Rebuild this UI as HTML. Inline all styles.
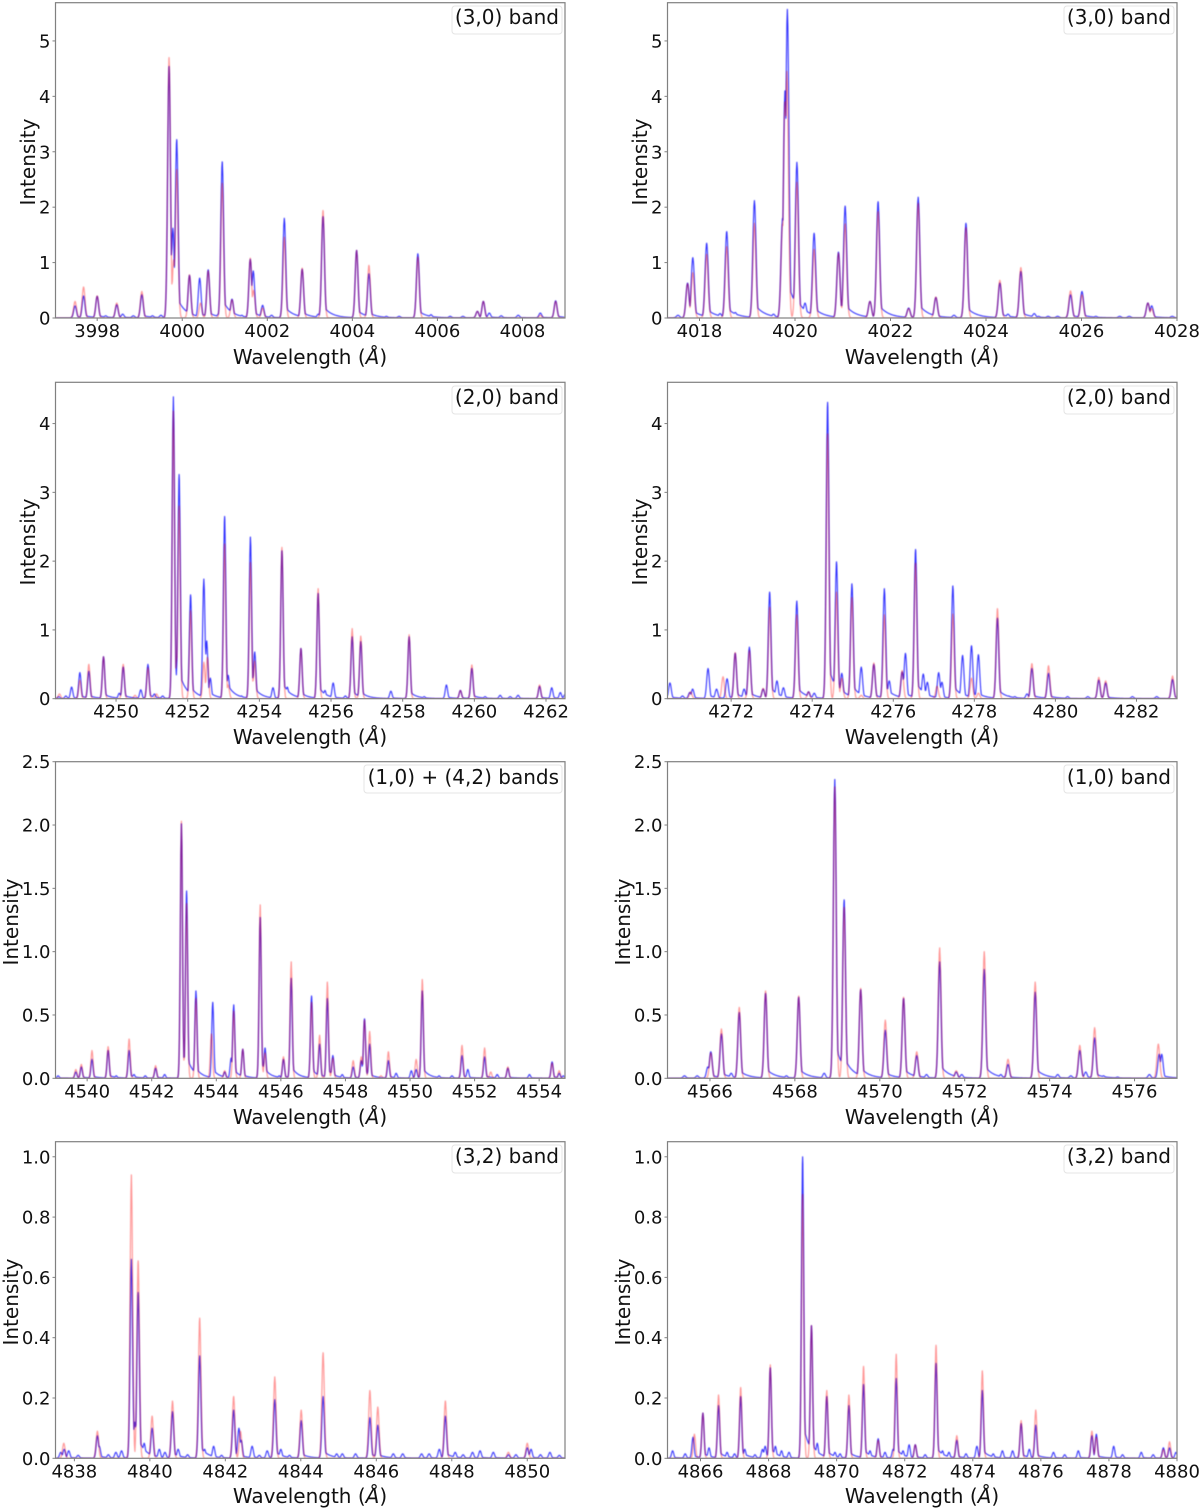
<!DOCTYPE html>
<html lang="en">
<head>
<meta charset="utf-8">
<title>Spectral band panels</title>
<style>
html,body{margin:0;padding:0;background:#fff;}
svg{display:block;font-family:"DejaVu Sans","Liberation Sans",sans-serif;fill:#111;}
.axt{font-size:20px;text-anchor:middle;}
.lgt{font-size:20px;text-anchor:end;}
.tk{font-size:18px;}
.frame{fill:none;stroke:#808080;stroke-width:1.2;}
.lgb{fill:#fff;fill-opacity:.8;stroke:#e4e4e4;stroke-width:1;}
</style>
</head>
<body>
<svg id="chart" xmlns="http://www.w3.org/2000/svg" width="1200" height="1510" viewBox="0 0 1200 1510">
<defs id="clips"><filter id="soft" x="-2%" y="-2%" width="104%" height="104%"><feGaussianBlur stdDeviation="0.45"/></filter></defs>

<g id="panel-1">
<g class="marks"></g>
<rect class="frame" x="55.5" y="2.7" width="509.5" height="315.3"/>
<g class="ticks"></g>
<rect class="lgb" x="452" y="6" width="110" height="28" rx="3"/>
<text class="lgt" x="559" y="24">(3,0) band</text>
<text class="axt" x="310" y="364">Wavelength (<tspan font-style="italic">Å</tspan>)</text>
<text class="axt" transform="translate(35,162) rotate(-90)">Intensity</text>
</g>

<g id="panel-2">
<g class="marks"></g>
<rect class="frame" x="667.5" y="2.7" width="509.5" height="315.3"/>
<g class="ticks"></g>
<rect class="lgb" x="1064" y="6" width="110" height="28" rx="3"/>
<text class="lgt" x="1171" y="24">(3,0) band</text>
<text class="axt" x="922" y="364">Wavelength (<tspan font-style="italic">Å</tspan>)</text>
<text class="axt" transform="translate(647,162) rotate(-90)">Intensity</text>
</g>

<g id="panel-3">
<g class="marks"></g>
<rect class="frame" x="55.5" y="382.3" width="509.5" height="316.4"/>
<g class="ticks"></g>
<rect class="lgb" x="452" y="386" width="110" height="28" rx="3"/>
<text class="lgt" x="559" y="404">(2,0) band</text>
<text class="axt" x="310" y="744">Wavelength (<tspan font-style="italic">Å</tspan>)</text>
<text class="axt" transform="translate(35,542) rotate(-90)">Intensity</text>
</g>

<g id="panel-4">
<g class="marks"></g>
<rect class="frame" x="667.5" y="382.3" width="509.5" height="316.4"/>
<g class="ticks"></g>
<rect class="lgb" x="1064" y="386" width="110" height="28" rx="3"/>
<text class="lgt" x="1171" y="404">(2,0) band</text>
<text class="axt" x="922" y="744">Wavelength (<tspan font-style="italic">Å</tspan>)</text>
<text class="axt" transform="translate(647,542) rotate(-90)">Intensity</text>
</g>

<g id="panel-5">
<g class="marks"></g>
<rect class="frame" x="55.5" y="761.7" width="509.5" height="316.6"/>
<g class="ticks"></g>
<rect class="lgb" x="364" y="765" width="198" height="28" rx="3"/>
<text class="lgt" x="559" y="784">(1,0) + (4,2) bands</text>
<text class="axt" x="310" y="1124">Wavelength (<tspan font-style="italic">Å</tspan>)</text>
<text class="axt" transform="translate(18,922) rotate(-90)">Intensity</text>
</g>

<g id="panel-6">
<g class="marks"></g>
<rect class="frame" x="667.5" y="761.7" width="509.5" height="316.6"/>
<g class="ticks"></g>
<rect class="lgb" x="1064" y="765" width="110" height="28" rx="3"/>
<text class="lgt" x="1171" y="784">(1,0) band</text>
<text class="axt" x="922" y="1124">Wavelength (<tspan font-style="italic">Å</tspan>)</text>
<text class="axt" transform="translate(630,922) rotate(-90)">Intensity</text>
</g>

<g id="panel-7">
<g class="marks"></g>
<rect class="frame" x="55.5" y="1141.7" width="509.5" height="316.6"/>
<g class="ticks"></g>
<rect class="lgb" x="452" y="1145" width="110" height="28" rx="3"/>
<text class="lgt" x="559" y="1163">(3,2) band</text>
<text class="axt" x="310" y="1503">Wavelength (<tspan font-style="italic">Å</tspan>)</text>
<text class="axt" transform="translate(18,1302) rotate(-90)">Intensity</text>
</g>

<g id="panel-8">
<g class="marks"></g>
<rect class="frame" x="667.5" y="1141.7" width="509.5" height="316.6"/>
<g class="ticks"></g>
<rect class="lgb" x="1064" y="1145" width="110" height="28" rx="3"/>
<text class="lgt" x="1171" y="1163">(3,2) band</text>
<text class="axt" x="922" y="1503">Wavelength (<tspan font-style="italic">Å</tspan>)</text>
<text class="axt" transform="translate(630,1302) rotate(-90)">Intensity</text>
</g>
</svg>

<script>
// ---- Panel 1: (3,0) band, left ----
const p1XTicks = ["3998","4000","4002","4004","4006","4008"];
const p1YTicks = ["0","1","2","3","4","5"];
const p1BlueWave = [3997.48,3997.68,3998.0,3998.2,3998.46,3998.6,3998.85,3999.05,3999.3,3999.5,3999.69,3999.78,3999.87,4000.17,4000.41,4000.61,4000.85,4000.94,4001.17,4001.4,4001.6,4001.67,4001.89,4002.1,4002.4,4002.82,4003.2,4003.31,4003.65,4004.1,4004.39,4004.8,4005.1,4005.54,4005.85,4006.3,4006.6,4006.94,4007.08,4007.22,4007.5,4007.9,4008.42,4008.78];
const p1BlueInt = [0.22,0.40,0.39,0.04,0.24,0.07,0.04,0.42,0.04,0.05,4.54,1.62,3.22,0.77,0.72,0.87,0.07,2.82,0.34,0.05,1.06,0.85,0.23,0.05,1.80,0.88,0.07,1.83,0.03,1.22,0.80,0.03,0.03,1.16,0.06,0.03,0.03,0.12,0.30,0.09,0.04,0.05,0.09,0.31];
const p1RedWave = [3997.48,3997.68,3998.0,3998.46,3999.05,3999.69,3999.8,3999.87,4000.17,4000.43,4000.61,4000.94,4001.17,4001.6,4001.68,4001.89,4002.4,4002.82,4003.31,4004.1,4004.39,4005.54,4006.94,4007.08,4008.42,4008.78];
const p1RedInt = [0.30,0.56,0.40,0.27,0.48,4.70,1.05,2.68,0.78,0.27,0.85,2.43,0.33,1.08,0.50,0.18,1.46,0.90,1.94,1.22,0.95,1.10,0.12,0.30,0.05,0.30];

// ---- Panel 2: (3,0) band, right ----
const p2XTicks = ["4018","4020","4022","4024","4026","4028"];
const p2YTicks = ["0","1","2","3","4","5"];
const p2BlueWave = [4017.55,4017.75,4017.86,4018.15,4018.43,4018.57,4018.75,4019.15,4019.55,4019.74,4019.79,4019.84,4020.04,4020.21,4020.40,4020.7,4020.91,4021.05,4021.57,4021.74,4022.38,4022.58,4022.95,4023.33,4023.58,4024.29,4024.46,4024.73,4025.01,4025.1,4025.3,4025.5,4025.77,4026.01,4026.3,4026.8,4027.0,4027.39,4027.47,4027.9];
const p2BlueInt = [0.05,0.63,1.09,1.35,0.08,1.56,0.10,2.12,0.07,1.80,4.10,5.57,2.81,0.27,1.53,0.04,1.19,2.02,0.30,2.10,0.18,2.18,0.37,0.05,1.71,0.63,0.07,0.84,0.08,0.03,0.03,0.03,0.42,0.48,0.03,0.03,0.03,0.27,0.22,0.03];
const p2RedWave = [4017.75,4017.86,4018.15,4018.57,4019.15,4019.74,4019.79,4019.83,4020.04,4020.40,4020.91,4021.05,4021.57,4021.74,4022.38,4022.58,4022.95,4023.58,4024.29,4024.73,4025.77,4026.01,4027.39,4027.47];
const p2RedInt = [0.62,0.82,1.15,1.29,1.71,1.70,3.90,4.45,2.45,1.24,1.17,1.70,0.30,1.92,0.17,2.07,0.38,1.63,0.68,0.91,0.49,0.42,0.27,0.17];

// ---- Panel 3: (2,0) band, left ----
const p3XTicks = ["4250","4252","4254","4256","4258","4260","4262"];
const p3YTicks = ["0","1","2","3","4"];
const p3BlueWave = [4248.4,4248.6,4248.76,4248.99,4249.24,4249.65,4250.09,4250.20,4250.69,4250.89,4251.07,4251.3,4251.6,4251.76,4252.08,4252.45,4252.53,4252.63,4253.03,4253.13,4253.5,4253.75,4253.87,4254.38,4254.63,4254.78,4255.16,4255.64,4255.83,4256.06,4256.4,4256.59,4256.83,4257.67,4258.18,4258.6,4259.22,4259.61,4259.93,4260.3,4260.72,4261.0,4261.22,4261.82,4262.16,4262.4,4262.53];
const p3BlueInt = [0.03,0.04,0.17,0.38,0.40,0.61,0.08,0.46,0.13,0.50,0.07,0.04,4.39,3.26,1.51,1.74,0.84,0.30,2.65,0.34,0.04,2.35,0.68,0.16,2.15,0.17,0.73,1.53,0.12,0.23,0.04,0.90,0.83,0.11,0.90,0.03,0.20,0.12,0.44,0.03,0.05,0.03,0.05,0.18,0.16,0.09,0.06];
const p3RedWave = [4248.42,4248.99,4249.24,4249.65,4250.20,4250.53,4250.89,4251.13,4251.6,4251.7,4251.76,4252.08,4252.45,4252.55,4253.03,4253.13,4253.75,4253.87,4254.63,4255.16,4255.64,4256.59,4256.83,4258.18,4259.61,4259.93,4261.82];
const p3RedInt = [0.07,0.27,0.50,0.61,0.50,0.05,0.45,0.07,4.18,0.60,2.80,1.28,0.53,0.60,2.25,0.20,1.98,0.55,2.20,0.73,1.60,1.02,0.91,0.93,0.12,0.49,0.20];

// ---- Panel 4: (2,0) band, right ----
const p4XTicks = ["4272","4274","4276","4278","4280","4282"];
const p4YTicks = ["0","1","2","3","4"];
const p4BlueWave = [4270.49,4270.8,4270.98,4271.05,4271.43,4271.64,4271.9,4272.1,4272.32,4272.45,4272.79,4272.95,4273.13,4273.29,4273.62,4273.91,4274.05,4274.38,4274.6,4274.73,4274.98,4275.21,4275.52,4275.78,4275.9,4276.22,4276.3,4276.55,4276.74,4276.84,4277.12,4277.2,4277.47,4277.71,4277.93,4278.1,4278.57,4278.85,4279.0,4279.3,4279.42,4279.83,4280.3,4280.8,4281.07,4281.24,4281.9,4282.5,4282.89];
const p4BlueInt = [0.23,0.04,0.09,0.14,0.44,0.14,0.29,0.66,0.14,0.75,0.14,1.55,0.26,0.16,1.42,0.10,0.08,4.31,1.99,0.37,1.67,0.46,0.50,1.60,0.26,0.39,0.66,2.17,0.36,0.24,0.38,0.24,1.64,0.63,0.77,0.64,1.17,0.04,0.03,0.07,0.44,0.37,0.03,0.03,0.27,0.23,0.03,0.03,0.28];
const p4RedWave = [4271.0,4271.8,4272.1,4272.45,4272.79,4272.95,4273.62,4273.91,4274.38,4274.6,4274.73,4274.98,4275.21,4275.52,4275.78,4276.22,4276.55,4277.08,4277.47,4277.93,4278.1,4278.57,4279.42,4279.83,4281.07,4281.24,4282.89];
const p4RedInt = [0.10,0.32,0.67,0.70,0.15,1.33,1.22,0.10,3.85,1.55,0.30,1.47,0.05,0.52,1.22,0.41,1.97,0.18,1.23,0.30,0.08,1.31,0.51,0.48,0.31,0.26,0.33];

// ---- Panel 5: (1,0) + (4,2) bands ----
const p5XTicks = ["4540","4542","4544","4546","4548","4550","4552","4554"];
const p5YTicks = ["0.0","0.5","1.0","1.5","2.0","2.5"];
const p5BlueWave = [4539.1,4539.65,4539.82,4540.15,4540.65,4540.9,4541.3,4541.45,4541.8,4542.12,4542.4,4542.92,4543.08,4543.37,4543.89,4544.26,4544.46,4544.54,4544.82,4545.36,4545.51,4545.95,4546.08,4546.32,4546.95,4547.2,4547.44,4547.61,4547.9,4548.24,4548.49,4548.59,4548.75,4549.33,4549.57,4550.04,4550.19,4550.38,4550.9,4551.3,4551.61,4551.79,4552.31,4552.7,4553.03,4553.7,4554.4,4554.62,4554.75];
const p5BlueInt = [0.02,0.05,0.09,0.15,0.22,0.02,0.22,0.03,0.02,0.08,0.03,2.01,1.48,0.69,0.60,0.05,0.16,0.58,0.23,1.27,0.24,0.02,0.15,0.79,0.65,0.27,0.63,0.18,0.03,0.09,0.14,0.47,0.27,0.14,0.04,0.06,0.07,0.69,0.02,0.02,0.18,0.07,0.17,0.03,0.08,0.03,0.13,0.04,0.02];
const p5RedWave = [4539.65,4539.82,4540.15,4540.65,4541.3,4542.12,4542.92,4543.08,4543.37,4543.85,4544.26,4544.54,4544.82,4545.36,4545.51,4546.08,4546.32,4546.95,4547.2,4547.44,4547.61,4548.24,4548.49,4548.59,4548.75,4549.1,4549.33,4550.19,4550.38,4551.61,4552.31,4552.5,4553.03,4554.4,4554.62];
const p5RedInt = [0.07,0.11,0.22,0.25,0.31,0.10,2.03,1.38,0.63,0.35,0.06,0.53,0.23,1.37,0.20,0.17,0.92,0.60,0.34,0.76,0.16,0.14,0.17,0.46,0.37,0.02,0.21,0.15,0.78,0.26,0.24,0.05,0.09,0.12,0.06];

// ---- Panel 6: (1,0) band ----
const p6XTicks = ["4566","4568","4570","4572","4574","4576"];
const p6YTicks = ["0.0","0.5","1.0","1.5","2.0","2.5"];
const p6BlueWave = [4565.4,4565.7,4565.95,4566.02,4566.27,4566.5,4566.69,4567.31,4567.8,4568.09,4568.69,4568.94,4569.16,4569.55,4570.13,4570.56,4570.87,4571.1,4571.41,4571.8,4571.93,4572.46,4572.85,4573.02,4573.66,4574.19,4574.5,4574.71,4574.85,4575.06,4575.27,4575.6,4576.35,4576.58,4576.64];
const p6BlueInt = [0.02,0.02,0.09,0.21,0.35,0.04,0.52,0.67,0.02,0.64,0.04,2.36,1.41,0.70,0.38,0.63,0.18,0.03,0.92,0.05,0.03,0.86,0.03,0.11,0.68,0.03,0.02,0.22,0.05,0.32,0.02,0.01,0.03,0.19,0.19];
const p6RedWave = [4566.02,4566.27,4566.69,4567.31,4568.09,4568.94,4569.16,4569.55,4570.13,4570.56,4570.87,4571.41,4571.8,4572.46,4573.02,4573.66,4574.71,4575.06,4576.56];
const p6RedInt = [0.20,0.39,0.56,0.69,0.65,2.30,1.35,0.71,0.46,0.64,0.21,1.03,0.06,1.00,0.15,0.76,0.26,0.40,0.27];

// ---- Panel 7: (3,2) band, left ----
const p7XTicks = ["4838","4840","4842","4844","4846","4848","4850"];
const p7YTicks = ["0.0","0.2","0.4","0.6","0.8","1.0"];
const p7BlueWave = [4837.64,4837.73,4837.85,4838.1,4838.61,4838.66,4838.9,4839.1,4839.25,4839.51,4839.6,4839.69,4839.85,4840.06,4840.25,4840.4,4840.6,4840.75,4841.0,4841.32,4841.45,4841.69,4841.9,4842.22,4842.36,4842.42,4842.71,4842.9,4843.11,4843.31,4843.47,4843.7,4844.01,4844.59,4844.95,4845.1,4845.45,4845.83,4846.04,4846.45,4846.7,4847.2,4847.4,4847.67,4847.83,4848.09,4848.3,4848.55,4848.75,4849.1,4849.5,4849.7,4850.0,4850.1,4850.35,4850.6,4850.85];
const p7BlueInt = [0.02,0.03,0.025,0.01,0.075,0.04,0.012,0.02,0.025,0.66,0.12,0.55,0.05,0.10,0.03,0.02,0.155,0.03,0.012,0.34,0.03,0.04,0.01,0.16,0.10,0.06,0.04,0.01,0.025,0.195,0.03,0.01,0.125,0.205,0.015,0.015,0.015,0.135,0.11,0.015,0.015,0.015,0.015,0.03,0.14,0.02,0.012,0.02,0.025,0.02,0.012,0.012,0.035,0.03,0.012,0.02,0.01];
const p7RedWave = [4837.72,4838.61,4839.51,4839.69,4840.06,4840.6,4841.32,4842.22,4842.4,4843.31,4844.01,4844.59,4845.83,4846.04,4847.83,4849.5,4850.0];
const p7RedInt = [0.05,0.09,0.94,0.655,0.14,0.19,0.465,0.205,0.09,0.27,0.16,0.35,0.225,0.17,0.19,0.02,0.05];

// ---- Panel 8: (3,2) band, right ----
const p8XTicks = ["4866","4868","4870","4872","4874","4876","4878","4880"];
const p8YTicks = ["0.0","0.2","0.4","0.6","0.8","1.0"];
const p8BlueWave = [4865.18,4865.55,4865.78,4866.07,4866.25,4866.53,4866.78,4867.0,4867.18,4867.3,4867.6,4867.82,4867.9,4868.05,4868.2,4868.38,4868.6,4869.0,4869.26,4869.43,4869.71,4869.95,4870.1,4870.36,4870.79,4870.98,4871.22,4871.42,4871.66,4871.75,4871.95,4872.13,4872.31,4872.6,4872.92,4873.11,4873.3,4873.53,4873.8,4874.12,4874.28,4874.6,4874.87,4875.17,4875.42,4875.66,4875.85,4876.37,4876.7,4877.1,4877.5,4877.63,4878.14,4878.4,4878.95,4879.3,4879.6,4879.78,4879.97];
const p8BlueInt = [0.025,0.015,0.07,0.15,0.035,0.175,0.02,0.015,0.205,0.03,0.012,0.03,0.04,0.30,0.04,0.025,0.02,1.00,0.44,0.05,0.205,0.02,0.015,0.175,0.245,0.025,0.065,0.02,0.03,0.265,0.025,0.045,0.045,0.012,0.315,0.025,0.02,0.06,0.015,0.04,0.225,0.015,0.025,0.025,0.115,0.03,0.11,0.02,0.012,0.025,0.075,0.08,0.04,0.012,0.02,0.012,0.035,0.035,0.02];
const p8RedWave = [4865.82,4866.07,4866.53,4867.18,4868.05,4869.0,4869.26,4869.71,4870.36,4870.79,4871.22,4871.75,4872.31,4872.92,4873.53,4874.28,4875.42,4875.85,4877.5,4877.63,4879.6,4879.78];
const p8RedInt = [0.08,0.15,0.21,0.235,0.31,0.875,0.44,0.225,0.21,0.305,0.06,0.345,0.045,0.375,0.075,0.29,0.125,0.16,0.09,0.07,0.03,0.055];

// ---- Panel wiring: axis domains and which arrays feed which panel ----
const panelDefs = [
  {id:"panel-1", xMin:3997.02, xMax:4009.0,  yMax:5.69, xTicks:p1XTicks, yTicks:p1YTicks, bw:p1BlueWave, bi:p1BlueInt, rw:p1RedWave, ri:p1RedInt},
  {id:"panel-2", xMin:4017.33, xMax:4028.0,  yMax:5.69, xTicks:p2XTicks, yTicks:p2YTicks, bw:p2BlueWave, bi:p2BlueInt, rw:p2RedWave, ri:p2RedInt},
  {id:"panel-3", xMin:4248.31, xMax:4262.53, yMax:4.6,  xTicks:p3XTicks, yTicks:p3YTicks, bw:p3BlueWave, bi:p3BlueInt, rw:p3RedWave, ri:p3RedInt},
  {id:"panel-4", xMin:4270.43, xMax:4283.0,  yMax:4.6,  xTicks:p4XTicks, yTicks:p4YTicks, bw:p4BlueWave, bi:p4BlueInt, rw:p4RedWave, ri:p4RedInt},
  {id:"panel-5", xMin:4539.02, xMax:4554.8,  yMax:2.5,  xTicks:p5XTicks, yTicks:p5YTicks, bw:p5BlueWave, bi:p5BlueInt, rw:p5RedWave, ri:p5RedInt},
  {id:"panel-6", xMin:4565.0,  xMax:4577.0,  yMax:2.5,  xTicks:p6XTicks, yTicks:p6YTicks, bw:p6BlueWave, bi:p6BlueInt, rw:p6RedWave, ri:p6RedInt},
  {id:"panel-7", xMin:4837.5,  xMax:4851.0,  yMax:1.05, xTicks:p7XTicks, yTicks:p7YTicks, bw:p7BlueWave, bi:p7BlueInt, rw:p7RedWave, ri:p7RedInt},
  {id:"panel-8", xMin:4865.03, xMax:4880.0,  yMax:1.05, xTicks:p8XTicks, yTicks:p8YTicks, bw:p8BlueWave, bi:p8BlueInt, rw:p8RedWave, ri:p8RedInt}
];

const NS = "http://www.w3.org/2000/svg";
const LINE_SIGMA = 0.033;   // instrumental line width in Angstrom
const TAIL_FRAC = 0.12;     // blue scattered-light wing, fraction of line height
const TAIL_DECAY = 0.2;     // wing decay length in Angstrom

// Height of a line profile at a distance d from its centre.
function lineShape(d, h, withTail) {
  const core = h * Math.exp(-d * d / (2 * LINE_SIGMA * LINE_SIGMA));
  if (withTail && d > 0) {
    return Math.max(core, TAIL_FRAC * h * Math.exp(-d / TAIL_DECAY));
  }
  return core;
}

function buildLine(waves, ints, withTail, xMin, xMax, xScale, yScale) {
  const stepA = (xMax - xMin) / 1020;
  const samples = waves.slice();
  for (let w = xMin; w <= xMax; w += stepA) samples.push(w);
  samples.sort(function (a, b) { return a - b; });
  const pts = [];
  for (const w of samples) {
    let v = 0;
    for (let i = 0; i < waves.length; i++) {
      const d = w - waves[i];
      if (Math.abs(d) < 2) v = Math.max(v, lineShape(d, ints[i], withTail));
    }
    pts.push(xScale(w).toFixed(2) + "," + yScale(v).toFixed(2));
  }
  return pts.join(" ");
}

panelDefs.forEach(function (p, idx) {
  const group = document.getElementById(p.id);
  const frame = group.querySelector(".frame");
  const x0 = +frame.getAttribute("x");
  const y0 = +frame.getAttribute("y");
  const w = +frame.getAttribute("width");
  const h = +frame.getAttribute("height");
  const xScale = function (v) { return x0 + (v - p.xMin) / (p.xMax - p.xMin) * w; };
  const yScale = function (v) { return y0 + h - v / p.yMax * h; };

  const clipId = "clip-" + (idx + 1);
  const clip = document.createElementNS(NS, "clipPath");
  clip.setAttribute("id", clipId);
  const clipRect = document.createElementNS(NS, "rect");
  clipRect.setAttribute("x", x0);
  clipRect.setAttribute("y", y0);
  clipRect.setAttribute("width", w);
  clipRect.setAttribute("height", h);
  clip.appendChild(clipRect);
  document.getElementById("clips").appendChild(clip);

  const marks = group.querySelector(".marks");
  marks.setAttribute("clip-path", "url(#" + clipId + ")");

  const blue = document.createElementNS(NS, "polyline");
  
  
  blue.setAttribute("points", buildLine(p.bw, p.bi, true, p.xMin, p.xMax, xScale, yScale));
  blue.setAttribute("fill", "none");
  blue.setAttribute("stroke", "#0000ff");
  blue.setAttribute("stroke-opacity", "0.8");
  blue.setAttribute("stroke-width", "1.1");
  blue.setAttribute("stroke-linejoin", "round");
  blue.setAttribute("filter", "url(#soft)");
  marks.appendChild(blue);

  const red = document.createElementNS(NS, "polyline");
  
  
  red.setAttribute("points", buildLine(p.rw, p.ri, false, p.xMin, p.xMax, xScale, yScale));
  red.setAttribute("fill", "none");
  red.setAttribute("stroke", "#ff0000");
  red.setAttribute("stroke-opacity", "0.4");
  red.setAttribute("stroke-width", "1.2");
  red.setAttribute("stroke-linejoin", "round");
  red.setAttribute("filter", "url(#soft)");
  marks.appendChild(red);

  const ticks = group.querySelector(".ticks");
  p.xTicks.forEach(function (label) {
    const px = xScale(Number(label));
    const mark = document.createElementNS(NS, "line");
    
    
    mark.setAttribute("x1", px);
    mark.setAttribute("x2", px);
    mark.setAttribute("y1", y0 + h);
    mark.setAttribute("y2", y0 + h + 3);
    mark.setAttribute("stroke", "#808080");
    ticks.appendChild(mark);
    const text = document.createElementNS(NS, "text");
    
    
    text.setAttribute("class", "tk");
    text.setAttribute("x", px);
    text.setAttribute("y", y0 + h + 19);
    text.setAttribute("text-anchor", "middle");
    text.textContent = label;
    ticks.appendChild(text);
  });
  p.yTicks.forEach(function (label) {
    const py = yScale(Number(label));
    const mark = document.createElementNS(NS, "line");
    
    
    mark.setAttribute("x1", x0 - 3);
    mark.setAttribute("x2", x0);
    mark.setAttribute("y1", py);
    mark.setAttribute("y2", py);
    mark.setAttribute("stroke", "#808080");
    ticks.appendChild(mark);
    const text = document.createElementNS(NS, "text");
    
    
    text.setAttribute("class", "tk");
    text.setAttribute("x", x0 - 5);
    text.setAttribute("y", py + 6.5);
    text.setAttribute("text-anchor", "end");
    text.textContent = label;
    ticks.appendChild(text);
  });
});
</script>
</body>
</html>
